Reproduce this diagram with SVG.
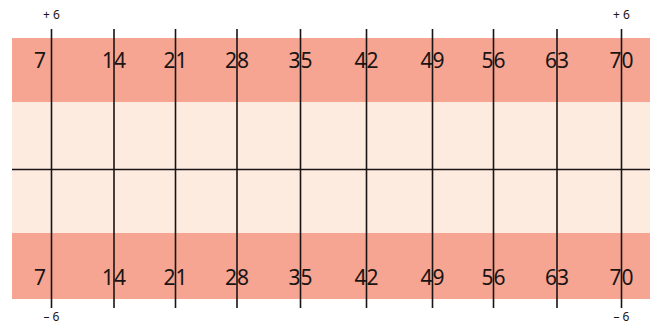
<svg xmlns="http://www.w3.org/2000/svg" width="650" height="326" viewBox="0 0 650 326">
<style>
.band{fill:#f5a591}
.pale{fill:#fdebe0}
.ln{stroke:#1a1414;stroke-width:1.6}
.num{font-family:"Noto Sans","Liberation Sans",sans-serif;font-size:21px;fill:#1a1414;text-anchor:middle}
.lab{font-family:"Noto Sans","Liberation Sans",sans-serif;font-size:12px;fill:#1a1414;text-anchor:middle}
</style>
<rect width="650" height="326" fill="#ffffff"/>
<g id="bands">
<rect class="band" x="12" y="38" width="638" height="64"/>
<rect class="pale" x="12" y="102" width="638" height="131"/>
<rect class="band" x="12" y="233" width="638" height="66"/>
</g>
<g id="lines">
<line class="ln" x1="12" y1="169.5" x2="650" y2="169.5"/>
<line class="ln" x1="51.5" y1="29" x2="51.5" y2="308"/>
<line class="ln" x1="114" y1="29" x2="114" y2="308"/>
<line class="ln" x1="175.5" y1="29" x2="175.5" y2="308"/>
<line class="ln" x1="237" y1="29" x2="237" y2="308"/>
<line class="ln" x1="300.5" y1="29" x2="300.5" y2="308"/>
<line class="ln" x1="366.5" y1="29" x2="366.5" y2="308"/>
<line class="ln" x1="432.5" y1="29" x2="432.5" y2="308"/>
<line class="ln" x1="493.5" y1="29" x2="493.5" y2="308"/>
<line class="ln" x1="557" y1="29" x2="557" y2="308"/>
<line class="ln" x1="621.5" y1="29" x2="621.5" y2="308"/>
</g>
<g id="top-numbers">
<text class="num" x="40" y="68">7</text>
<text class="num" x="114" y="68">14</text>
<text class="num" x="175.5" y="68">21</text>
<text class="num" x="237" y="68">28</text>
<text class="num" x="300.5" y="68">35</text>
<text class="num" x="366.5" y="68">42</text>
<text class="num" x="432.5" y="68">49</text>
<text class="num" x="493.5" y="68">56</text>
<text class="num" x="557" y="68">63</text>
<text class="num" x="621.5" y="68">70</text>
</g>
<g id="bottom-numbers">
<text class="num" x="40" y="285">7</text>
<text class="num" x="114" y="285">14</text>
<text class="num" x="175.5" y="285">21</text>
<text class="num" x="237" y="285">28</text>
<text class="num" x="300.5" y="285">35</text>
<text class="num" x="366.5" y="285">42</text>
<text class="num" x="432.5" y="285">49</text>
<text class="num" x="493.5" y="285">56</text>
<text class="num" x="557" y="285">63</text>
<text class="num" x="621.5" y="285">70</text>
</g>
<g id="labels">
<text class="lab" x="51.5" y="19">+ 6</text>
<text class="lab" x="621.5" y="19">+ 6</text>
<text class="lab" x="51.5" y="321">– 6</text>
<text class="lab" x="621.5" y="321">– 6</text>
</g>
</svg>
